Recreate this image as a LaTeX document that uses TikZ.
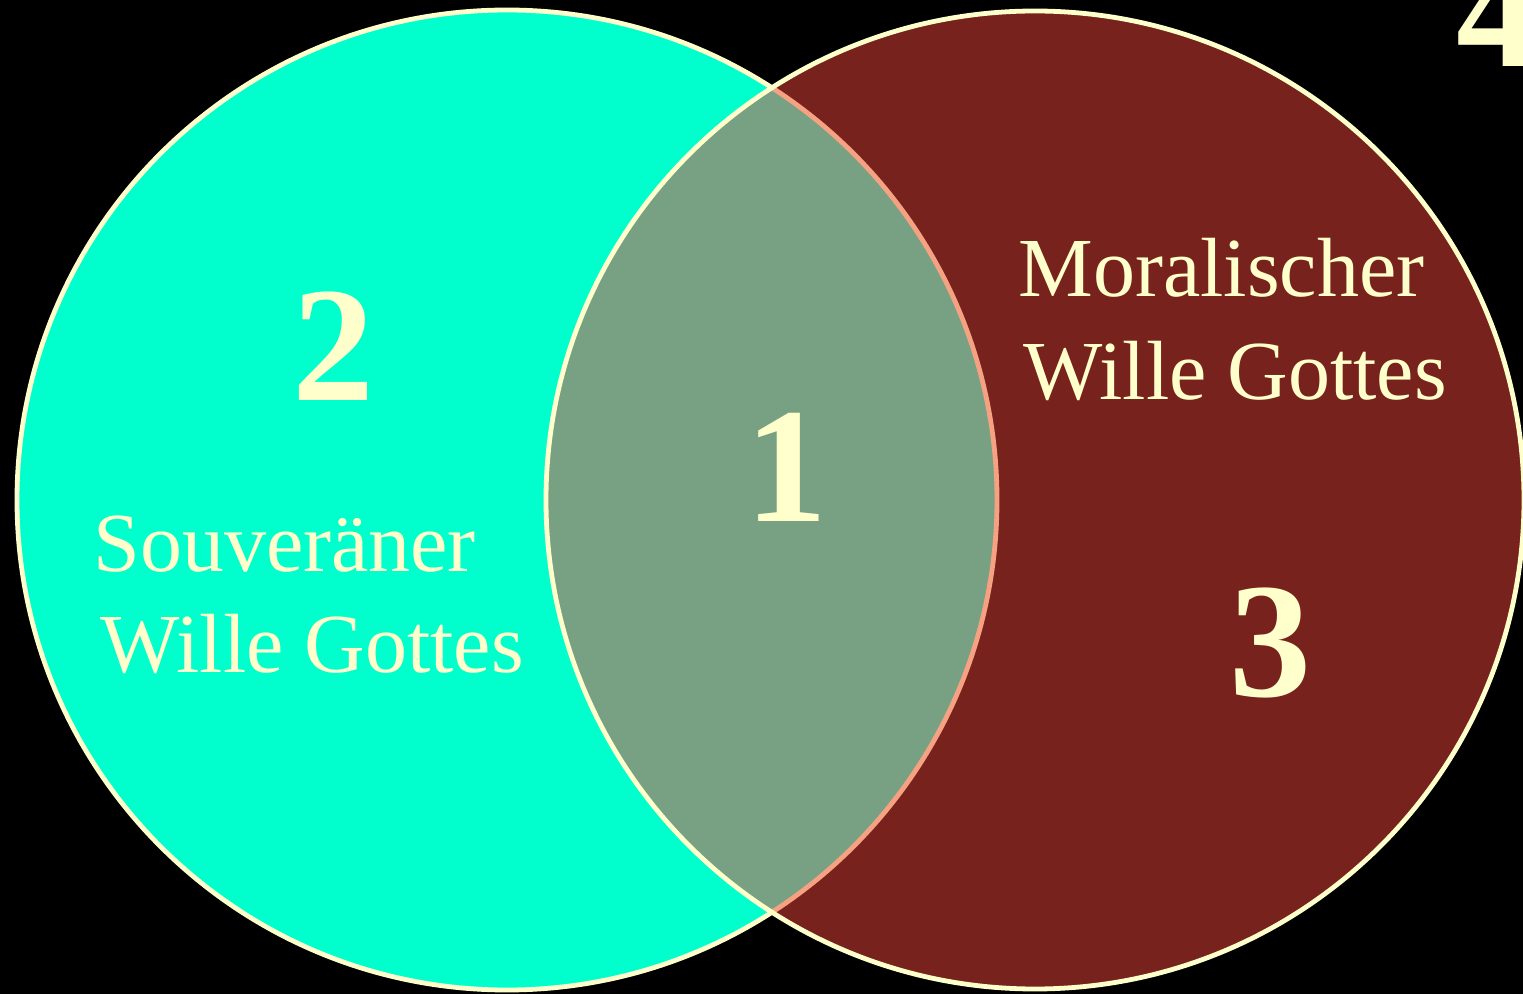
\documentclass[tikz,border=0pt]{standalone}
\usepackage{fontspec}
\setmainfont{Liberation Serif}
\definecolor{vCream}{RGB}{255,255,204}
\definecolor{vAqua}{RGB}{0,255,204}
\definecolor{vRust}{RGB}{240,68,60}
\tikzset{
  ring/.style={draw=vCream, line width=2.4pt},
  wlabel/.style={vCream, anchor=base west, inner sep=0pt, font=\fontsize{42}{50}\selectfont},
  nlabel/.style={vCream, anchor=base, inner sep=0pt, font=\fontsize{82}{90}\selectfont\bfseries},
}
\begin{document}
\begin{tikzpicture}[x=0.5pt,y=-0.5pt]
    % Frame
    \useasboundingbox (0,0) rectangle (1523,994);
    \fill[black] (0,0) rectangle (1523,994);
    % Sovereign will
    \fill[vAqua] (507,500) circle[radius=245pt];
    \draw[ring] (507,500) circle[radius=245pt];
    % Moral will, see-through
    \fill[vRust, fill opacity=0.5] (1035,500) circle[radius=244.5pt];
    \draw[ring] (1035,500) circle[radius=244.5pt];
    % Region numbers
    \node[nlabel] (n1) at (786,522) {1};
    \node[nlabel] (n2) at (333,401) {2};
    \node[nlabel] (n3) at (1270,697) {3};
    \node[nlabel, anchor=base west] (n4) at (1456,67) {4};
    % Labels
    \node[wlabel] (souv) at (93,572) {Souveräner};
    \node[wlabel] (souvW) at (100,673) {Wille Gottes};
    \node[wlabel] (moral) at (1018,297) {Moralischer};
    \node[wlabel] (moralW) at (1023,400) {Wille Gottes};
  \end{tikzpicture}
\end{document}
